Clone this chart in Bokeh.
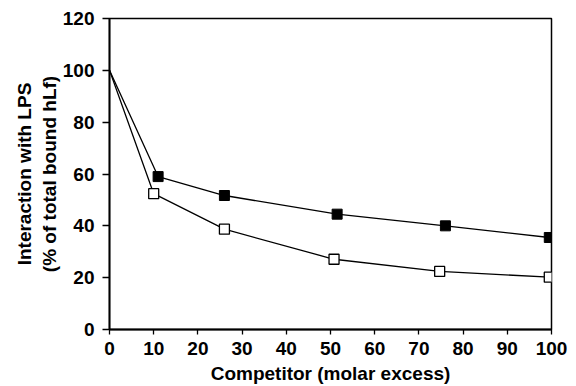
from bokeh.plotting import figure
from bokeh.models import Range1d, FixedTicker
from bokeh.embed import file_html
from bokeh.resources import INLINE

x_filled = [0, 11, 26, 51.5, 76, 99.5]
y_filled = [100, 59, 51.7, 44.5, 40, 35.5]
x_open = [0, 10, 26, 50.8, 74.7, 99.5]
y_open = [100, 52.4, 38.7, 27.1, 22.4, 20.2]
x_ticks = [0, 10, 20, 30, 40, 50, 60, 70, 80, 90, 100]
y_ticks = [0, 20, 40, 60, 80, 100, 120]

p = figure(width=576, height=386, output_backend="svg", toolbar_location=None,
           x_range=Range1d(0, 100), y_range=Range1d(0, 120),
           min_border_left=109, min_border_right=25, min_border_top=18, min_border_bottom=57)

p.line(x_filled, y_filled, line_color="black", line_width=1.3)
p.line(x_open, y_open, line_color="black", line_width=1.3)
p.scatter(x_filled[1:], y_filled[1:], marker="square", size=10, fill_color="black", line_color="black")
p.scatter(x_open[1:], y_open[1:], marker="square", size=10, fill_color="white", line_color="black", line_width=1.3)

p.xgrid.visible = False
p.ygrid.visible = False
p.outline_line_color = "black"
p.outline_line_width = 1.5
p.outline_line_alpha = 1

for ax in (p.xaxis[0], p.yaxis[0]):
    ax.axis_line_width = 1.8
    ax.axis_line_color = "black"
    ax.major_tick_line_color = "black"
    ax.major_tick_line_width = 1.3
    ax.major_tick_in = 0
    ax.minor_tick_line_color = None
    ax.major_label_text_font = "Liberation Sans"
    ax.major_label_text_font_style = "bold"
    ax.major_label_text_font_size = "19px"
    ax.major_label_text_color = "black"
    ax.axis_label_text_font = "Liberation Sans"
    ax.axis_label_text_font_style = "bold"
    ax.axis_label_text_font_size = "19px"
    ax.axis_label_text_color = "black"

p.xaxis.major_tick_out = 5
p.yaxis.major_tick_out = 7
p.xaxis.ticker = FixedTicker(ticks=x_ticks)
p.yaxis.ticker = FixedTicker(ticks=y_ticks)
p.xaxis.axis_label = "Competitor (molar excess)"
p.yaxis.axis_label = "Interaction with LPS\n(% of total bound hLf)"
p.xaxis.axis_label_standoff = 5
p.yaxis.axis_label_standoff = 0
p.xaxis.major_label_standoff = 7
p.yaxis.major_label_standoff = 8

open("out.html", "w").write(file_html(p, INLINE))
